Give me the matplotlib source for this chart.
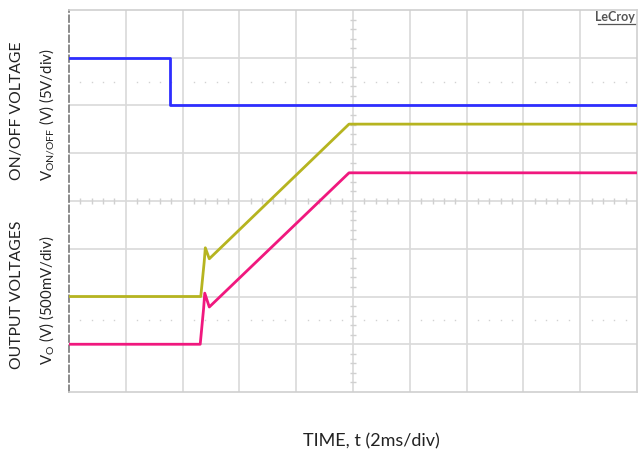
import matplotlib
matplotlib.use("Agg")
import matplotlib.pyplot as plt

# Time axis in ms (2 ms/div, 10 divisions); traces in screen divisions (0..8)
t_onoff = [0.0, 3.56, 3.56, 20.0]
v_onoff_div = [7.0, 7.0, 6.0, 6.0]

t_out1 = [0.0, 4.64, 4.76, 4.80, 4.94, 9.86, 20.0]
v_out1_div = [2.0, 2.0, 2.72, 3.02, 2.79, 5.61, 5.61]

t_out2 = [0.0, 4.62, 4.74, 4.78, 4.94, 9.86, 20.0]
v_out2_div = [1.0, 1.0, 1.75, 2.07, 1.78, 4.59, 4.59]

x_label = "TIME, t (2ms/div)"
top_title = "ON/OFF VOLTAGE"
top_unit = r"V$_{\mathregular{ON/OFF}}$ (V) (5V/div)"
bot_title = "OUTPUT VOLTAGES"
bot_unit = r"V$_{\mathregular{O}}$ (V) (500mV/div)"

W, H = 638, 451
fig = plt.figure(figsize=(W / 100, H / 100), dpi=100)
plt.rcParams["font.family"] = ["Lato", "DejaVu Sans"]

L, R, T, B = 69, 637, 10, 392
ax = fig.add_axes([L / W, 1 - B / H, (R - L) / W, (B - T) / H])
ax.set_xlim(0, 20)
ax.set_ylim(0, 8)

grid_c = "#d9d9d9"
# graticule
for x in range(2, 20, 2):
    ax.axvline(x, color=grid_c, lw=1.2, zorder=1)
for y in range(1, 8):
    ax.axhline(y, color=grid_c, lw=1.2, zorder=1)

# centre cross ticks
minor = [i * 0.4 for i in range(1, 50)]
xs_minor = [m for m in minor if abs(m % 2) > 1e-6 and abs(m % 2 - 2) > 1e-6]
ax.vlines(xs_minor, 4 - 0.07, 4 + 0.07, color="#d0d0d0", lw=1.0, zorder=1)
yminor = [i * 0.2 for i in range(1, 40)]
ax.hlines([m for m in yminor if abs(round(m) - m) > 1e-6],
          10 - 0.12, 10 + 0.12, color="#d0d0d0", lw=1.0, zorder=1)

# dotted level rows
for lvl in (6.5, 1.5):
    ax.plot(xs_minor, [lvl] * len(xs_minor), ls="none", marker="s", ms=1.0,
            color="#d2d2d2", mec="none", zorder=1)

ax.set_xticks([])
ax.set_yticks([])
for s in ("top", "right", "bottom"):
    ax.spines[s].set_color("#cfcfcf")
    ax.spines[s].set_linewidth(1.2)
ax.spines["left"].set_color("#777777")
ax.spines["left"].set_linewidth(1.2)
ax.spines["left"].set_linestyle((0, (4, 2)))

ax.plot(t_onoff, v_onoff_div, color="#2e2eff", lw=2.0, zorder=3)
ax.plot(t_out1, v_out1_div, color="#b6b420", lw=2.0, zorder=3)
ax.plot(t_out2, v_out2_div, color="#f0187e", lw=2.0, zorder=3)

def ftext(x, y, s, **kw):
    fig.text(x / W, 1 - y / H, s, **kw)

tc = "#222222"
ftext(371, 441, x_label, ha="center", va="center", fontsize=13, color=tc)
ftext(17, 111, top_title, ha="center", va="center", rotation=90, fontsize=11.3, color=tc)
ftext(47, 115, top_unit, ha="center", va="center", rotation=90, fontsize=10.8, color=tc)
ftext(17, 295, bot_title, ha="center", va="center", rotation=90, fontsize=11.3, color=tc)
ftext(47, 300, bot_unit, ha="center", va="center", rotation=90, fontsize=10.8, color=tc)

ftext(635, 17, "LeCroy", ha="right", va="center", fontsize=9, color="#555555",
      fontweight="bold")
fig.add_artist(plt.Line2D([598 / W, 635 / W], [1 - 24 / H, 1 - 24 / H],
                          color="#555555", lw=0.9))

fig.savefig("out.png", dpi=100, facecolor="white")
